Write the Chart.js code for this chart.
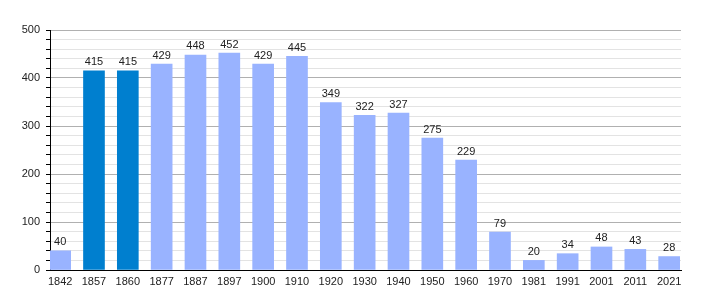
<!DOCTYPE html>
<html>
<head>
<meta charset="utf-8">
<script src="https://cdn.jsdelivr.net/npm/chart.js@4"></script>
<style>
   body { margin: 0; background: #fff; }
   canvas { display: block; }
</style>
</head>
<body>
<canvas id="chart" width="710" height="300"></canvas>
<script>
// Données
const years = ['1842', '1857', '1860', '1877', '1887', '1897', '1900', '1910', '1920', '1930',
   '1940', '1950', '1960', '1970', '1981', '1991', '2001', '2011', '2021'];
const population = [40, 415, 415, 429, 448, 452, 429, 445, 349, 322,
   327, 275, 229, 79, 20, 34, 48, 43, 28];
// années mises en évidence (barres foncées)
const highlighted = ['1857', '1860'];
const yTickLabels = [0, 100, 200, 300, 400, 500];

const lightBlue = '#99b3ff';
const darkBlue = '#007fcf';
const textFont = "11px 'Liberation Sans', Arial, sans-serif";

// valeurs au-dessus des barres
const valueLabels = {
   id: 'valueLabels',
   afterDatasetsDraw(chart) {
      const ctx = chart.ctx;
      const meta = chart.getDatasetMeta(0);
      ctx.save();
      ctx.font = textFont;
      ctx.fillStyle = '#222';
      ctx.textAlign = 'center';
      ctx.textBaseline = 'bottom';
      meta.data.forEach((bar, i) => {
         ctx.fillText(String(population[i]), bar.x, bar.y - 3);
      });
      ctx.restore();
   }
};

const ctx = document.getElementById('chart').getContext('2d');

new Chart(ctx, {
   type: 'bar',
   data: {
      datasets: [{
         data: population.map((v, i) => ({ x: i, y: v })),
         backgroundColor: years.map(y => highlighted.includes(y) ? darkBlue : lightBlue),
         borderWidth: 0,
         barThickness: 21,
      }]
   },
   options: {
      responsive: false,
      animation: false,
      layout: { padding: { left: 0, right: 29, top: 30, bottom: 0 } },
      plugins: {
         legend: { display: false },
         tooltip: { enabled: false },
      },
      scales: {
         x: {
            type: 'linear',
            offset: false,
            min: -0.3,
            max: 18.35,
            afterBuildTicks: (scale) => {
               scale.ticks = years.map((_, i) => ({ value: i }));
            },
            afterFit: (scale) => { scale.height = 30; },
            grid: { display: false, drawTicks: false },
            border: { color: '#000', width: 1 },
            ticks: {
               autoSkip: false,
               maxRotation: 0,
               padding: 5,
               color: '#222',
               font: { family: "'Liberation Sans', Arial, sans-serif", size: 11 },
               callback: (value) => years[value],
            }
         },
         y: {
            min: 0,
            max: 500,
            afterFit: (scale) => { scale.width = 50; },
            grid: {
               color: (c) => c.tick.value % 100 === 0 ? '#b0b0b0' : '#e3e3e3',
               tickColor: '#000',
               tickLength: 4,
            },
            border: { color: '#000', width: 1 },
            ticks: {
               stepSize: 20,
               autoSkip: false,
               padding: 6,
               color: '#222',
               font: { family: "'Liberation Sans', Arial, sans-serif", size: 11 },
               callback: (value) => yTickLabels.includes(value) ? String(value) : '',
            }
         }
      }
   },
   plugins: [valueLabels]
});
</script>
</body>
</html>
